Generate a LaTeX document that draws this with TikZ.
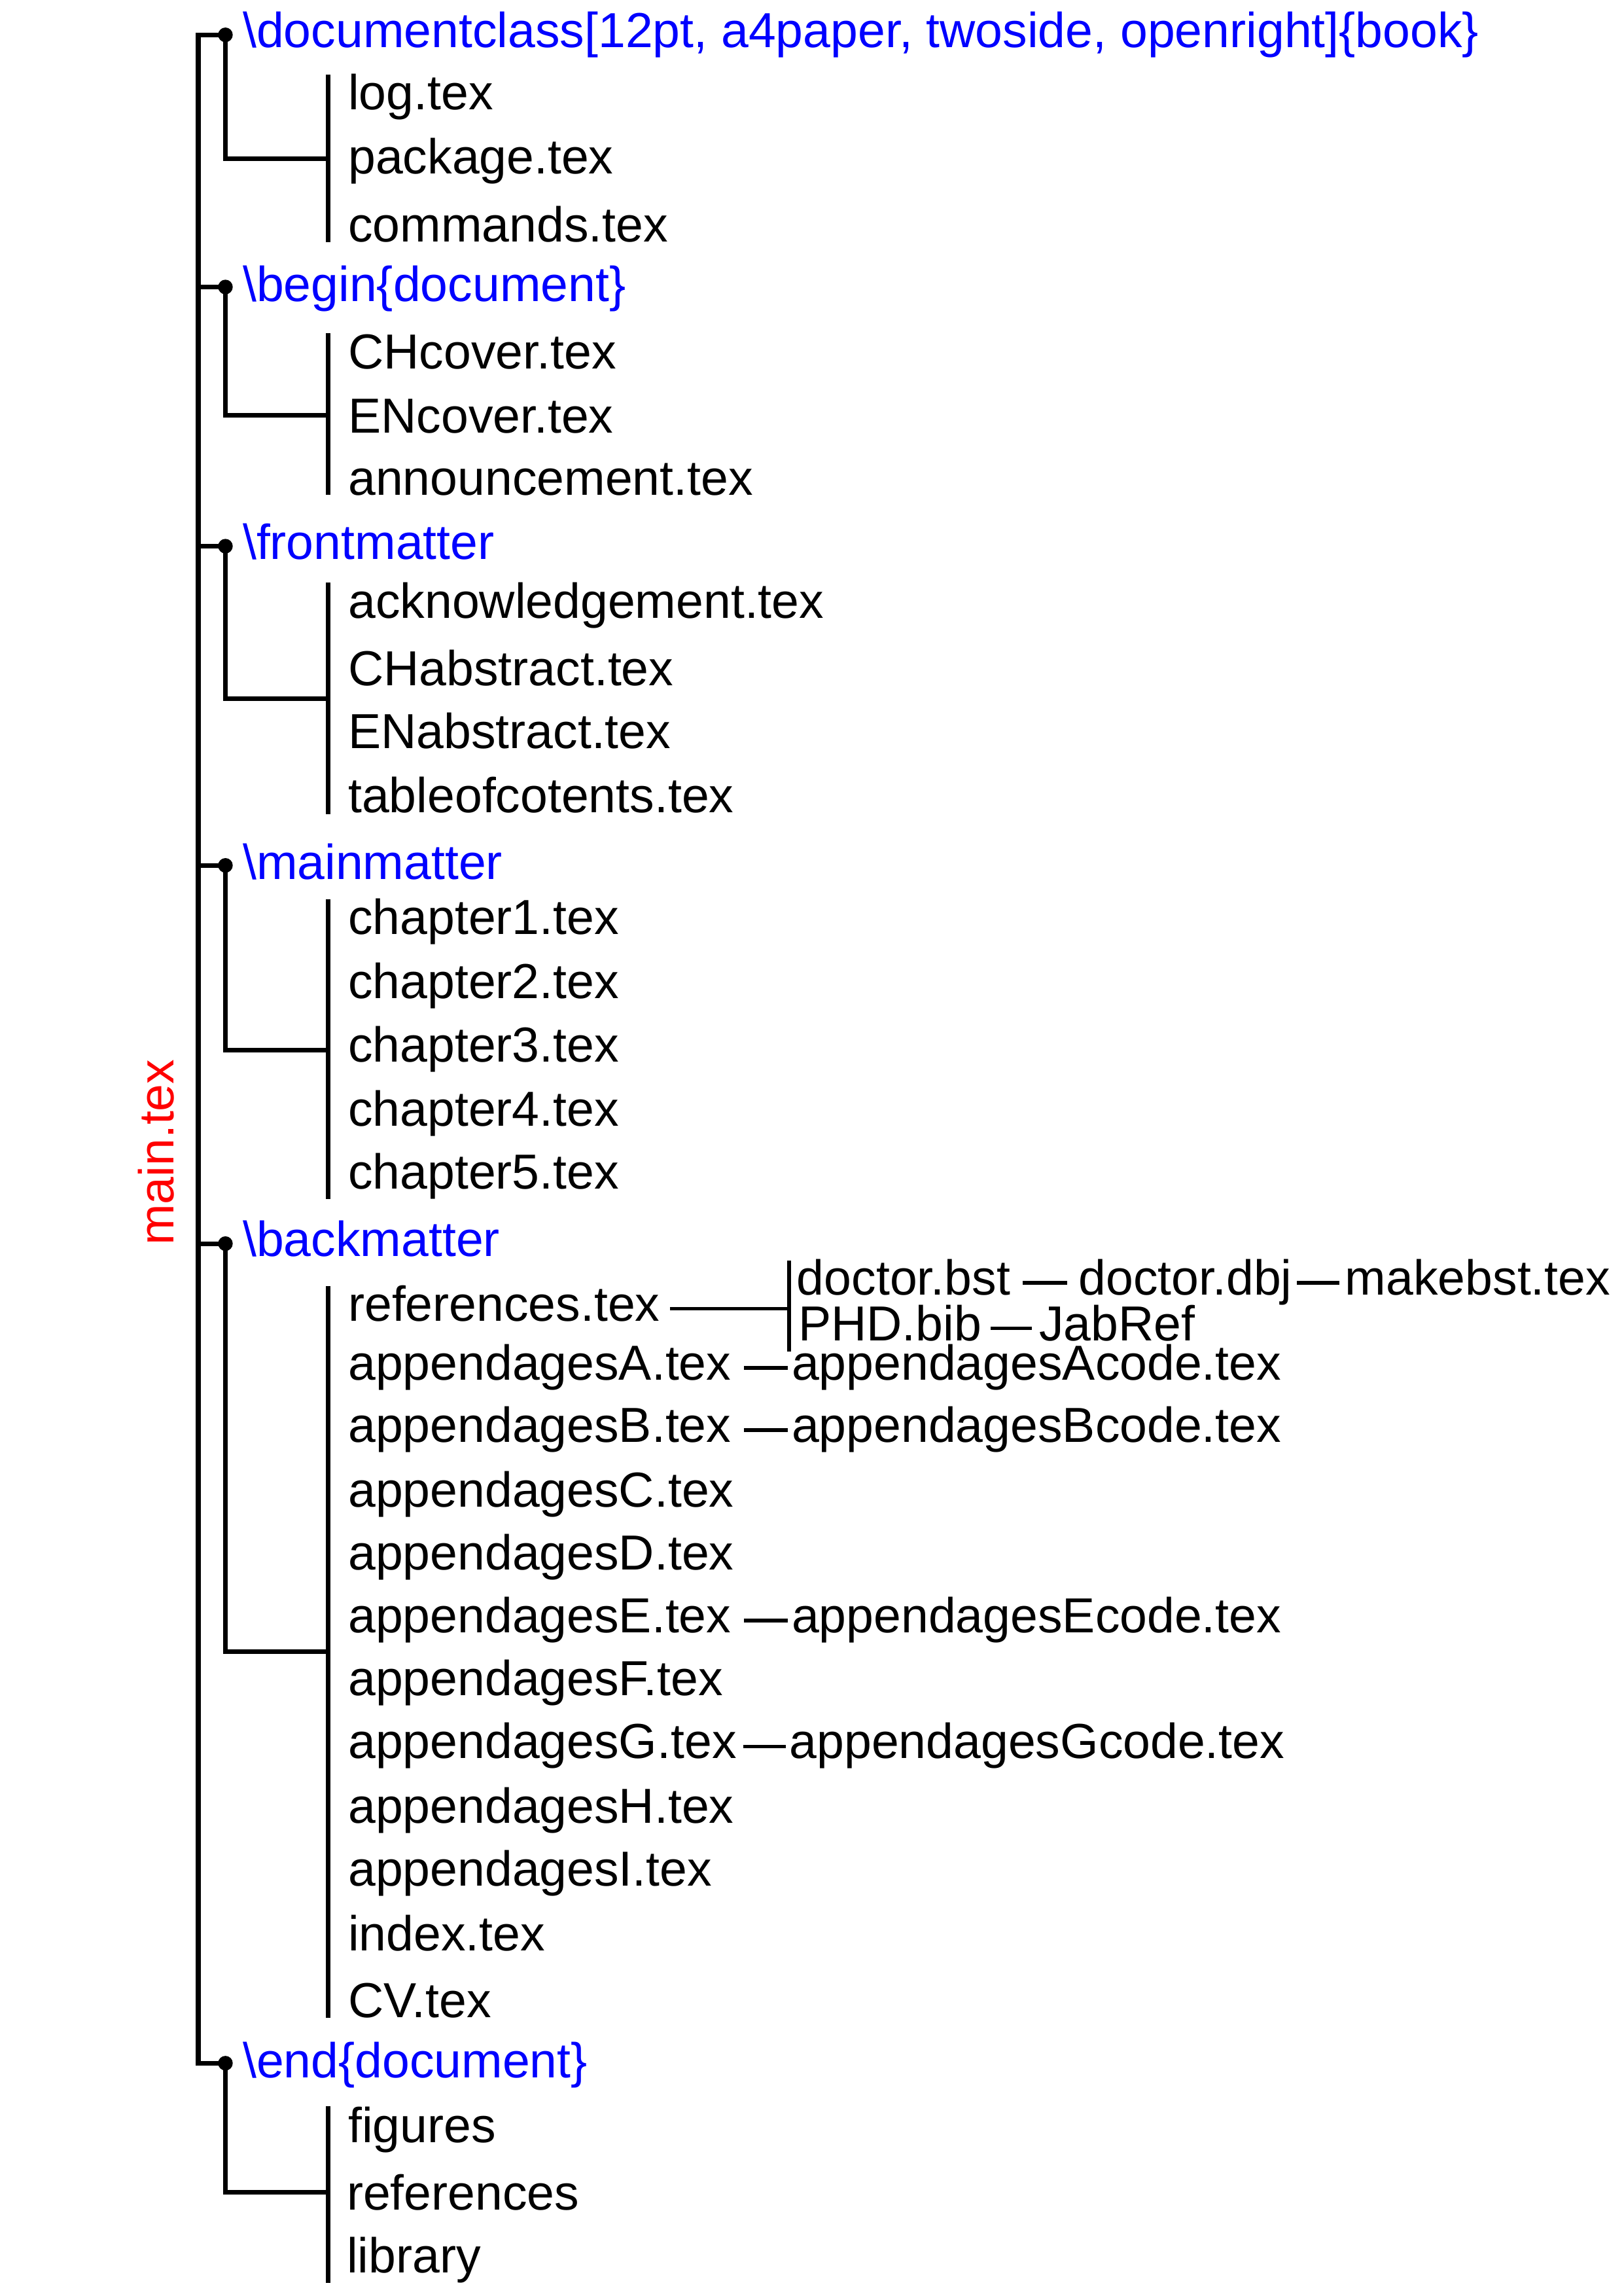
\documentclass[tikz,border=0pt]{standalone}
\usepackage{fontspec}
\setmainfont{Liberation Sans}
\newcommand\diafont{\fontsize{16.8pt}{20pt}\selectfont}
\tikzset{
  tree/.style={line width=1.6pt},
  link/.style={line width=1.2pt},
  lvl/.style={anchor=base west, inner sep=0pt, text=blue, font=\diafont, text height=11.7pt, text depth=3.34pt},
  leaf/.style={anchor=base west, inner sep=0pt, font=\diafont, text height=11.7pt, text depth=3.34pt},
  tightleaf/.style={leaf, text height=8.36pt, text depth=0pt},
  dotn/.style={circle, fill=black, inner sep=0pt, minimum size=5pt},
}
\begin{document}
\begin{tikzpicture}[x=0.5pt,y=-0.5pt]
\useasboundingbox (0,0) rectangle (1109,1568);

% main label
\node[rotate=90, anchor=base, inner sep=0pt, text=red, font=\diafont] (main) at (118.5,787) {main.tex};

% level-1 dots and labels
\node[dotn] (d1) at (154,23.8) {};
\node[dotn] (d2) at (154,196) {};
\node[dotn] (d3) at (154,373) {};
\node[dotn] (d4) at (154,591) {};
\node[dotn] (d5) at (154,849.3) {};
\node[dotn] (d6) at (154,1409) {};
\node[lvl] (l1) at (165.5,32.5) {\textbackslash documentclass[12pt, a4paper, twoside, openright]\{book\}};
\node[lvl] (l2) at (165.5,206) {\textbackslash begin\{document\}};
\node[lvl] (l3) at (165.5,382) {\textbackslash frontmatter};
\node[lvl] (l4) at (165.5,600.5) {\textbackslash mainmatter};
\node[lvl] (l5) at (165.5,858) {\textbackslash backmatter};
\node[lvl] (l6) at (165.5,1418.7) {\textbackslash end\{document\}};

% main spine
\coordinate (mtop) at (135.4,23.8);
\coordinate (mbot) at (135.4,1409);
\draw[tree] (d1.center) -- (mtop) -- (mbot) -- (d6.center);
\foreach \d in {d2,d3,d4,d5} \draw[tree] (\d.center) -- (\d.center -| mtop);

% group 1
\node[leaf] (c11) at (237.5,75) {log.tex};
\node[leaf] (c12) at (237.5,118.5) {package.tex};
\node[leaf] (c13) at (237.5,165) {commands.tex};
\coordinate (b1t) at (224,51); \coordinate (b1b) at (224,165.5); \coordinate (j1) at (224,108.5);
\draw[tree] (b1t) -- (b1b);
\draw[tree] (d1.center) |- (j1);

% group 2
\node[leaf] (c21) at (237.5,252) {CHcover.tex};
\node[leaf] (c22) at (237.5,295.8) {ENcover.tex};
\node[leaf] (c23) at (237.5,338) {announcement.tex};
\coordinate (b2t) at (224,227.7); \coordinate (b2b) at (224,338); \coordinate (j2) at (224,283.6);
\draw[tree] (b2t) -- (b2b);
\draw[tree] (d2.center) |- (j2);

% group 3
\node[leaf] (c31) at (237.5,422) {acknowledgement.tex};
\node[leaf] (c32) at (237.5,468) {CHabstract.tex};
\node[leaf] (c33) at (237.5,511) {ENabstract.tex};
\node[leaf] (c34) at (237.5,555) {tableofcotents.tex};
\coordinate (b3t) at (224,398); \coordinate (b3b) at (224,556); \coordinate (j3) at (224,477);
\draw[tree] (b3t) -- (b3b);
\draw[tree] (d3.center) |- (j3);

% group 4
\node[leaf] (c41) at (237.5,638) {chapter1.tex};
\node[leaf] (c42) at (237.5,682) {chapter2.tex};
\node[leaf] (c43) at (237.5,725) {chapter3.tex};
\node[leaf] (c44) at (237.5,769) {chapter4.tex};
\node[leaf] (c45) at (237.5,812) {chapter5.tex};
\coordinate (b4t) at (224,614); \coordinate (b4b) at (224,819); \coordinate (j4) at (224,717);
\draw[tree] (b4t) -- (b4b);
\draw[tree] (d4.center) |- (j4);

% group 5
\node[leaf] (ref) at (237.5,902) {references.tex};
\node[leaf] (apA) at (237.5,942.5) {appendagesA.tex};
\node[leaf] (apB) at (237.5,985) {appendagesB.tex};
\node[leaf] (apC) at (237.5,1029) {appendagesC.tex};
\node[leaf] (apD) at (237.5,1072) {appendagesD.tex};
\node[leaf] (apE) at (237.5,1115) {appendagesE.tex};
\node[leaf] (apF) at (237.5,1158) {appendagesF.tex};
\node[leaf] (apG) at (237.5,1201) {appendagesG.tex};
\node[leaf] (apH) at (237.5,1245) {appendagesH.tex};
\node[leaf] (apI) at (237.5,1288) {appendagesI.tex};
\node[leaf] (idx) at (237.5,1332) {index.tex};
\node[leaf] (cv) at (237.5,1378) {CV.tex};
\coordinate (b5t) at (224,878.3); \coordinate (b5b) at (224,1378); \coordinate (j5) at (224,1128);
\draw[tree] (b5t) -- (b5b);
\draw[tree] (d5.center) |- (j5);

% references sub-branch
\node[leaf] (bst) at (544,884.5) {doctor.bst};
\node[leaf] (dbj) at (736.5,884.5) {doctor.dbj};
\node[leaf] (mkb) at (918.5,884.5) {makebst.tex};
\node[tightleaf] (bib) at (545,915.5) {PHD.bib};
\node[tightleaf] (jab) at (709.5,915.5) {JabRef};
\coordinate (rbt) at (539,861); \coordinate (rbb) at (539,923);
\draw[link] (rbt) -- (rbb);
\draw[link, shorten <=3.2pt] (ref.east) -- (ref.east -| rbt);
\draw[link, shorten <=4pt, shorten >=3.75pt] (bst.east) -- (dbj.west);
\draw[link, shorten <=1.5pt, shorten >=1.75pt] (dbj.east) -- (mkb.west);
\draw[link, shorten <=2.85pt, shorten >=2.25pt] (bib.east) -- (jab.west);

% appendix code files
\node[leaf] (acA) at (540.5,942.5) {appendagesAcode.tex};
\node[leaf] (acB) at (540.5,985) {appendagesBcode.tex};
\node[leaf] (acE) at (540.5,1115) {appendagesEcode.tex};
\node[leaf] (acG) at (539,1201) {appendagesGcode.tex};
\draw[link, shorten <=4.25pt, shorten >=1.25pt] (apA.east) -- (acA.west);
\draw[link, shorten <=4.25pt, shorten >=1.25pt] (apB.east) -- (acB.west);
\draw[link, shorten <=4.25pt, shorten >=1.25pt] (apE.east) -- (acE.west);
\draw[link, shorten <=2pt, shorten >=1pt] (apG.east) -- (acG.west);

% group 6
\node[leaf] (fig) at (237.5,1463) {figures};
\node[leaf] (rfs) at (236.5,1509) {references};
\node[leaf] (lib) at (236.5,1552) {library};
\coordinate (b6t) at (224,1438.5); \coordinate (b6b) at (224,1559); \coordinate (j6) at (224,1497);
\draw[tree] (b6t) -- (b6b);
\draw[tree] (d6.center) |- (j6);
\end{tikzpicture}
\end{document}
